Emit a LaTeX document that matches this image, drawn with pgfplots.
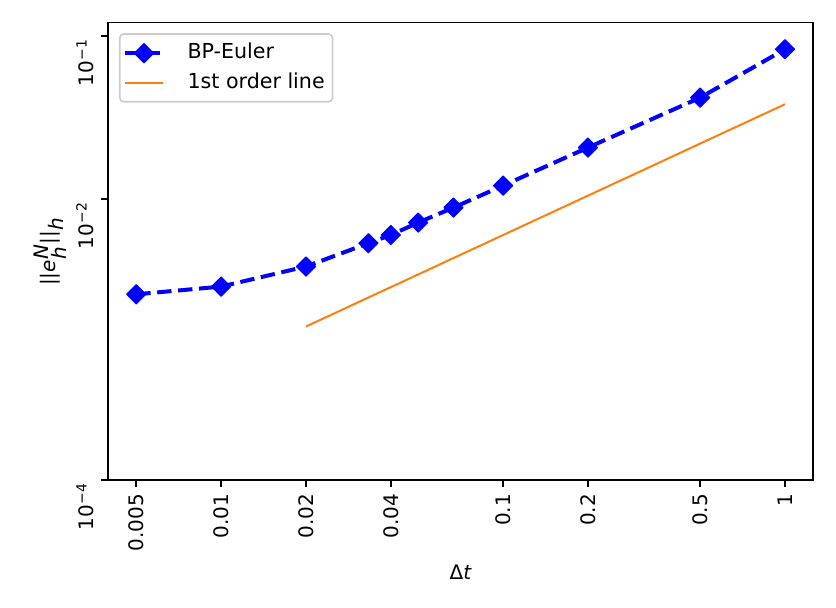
\documentclass[border=0pt]{standalone}
\usepackage{fontspec}
\setmainfont{DejaVu Sans}
\usepackage{pgfplots}
\pgfplotsset{compat=1.18}
\definecolor{mplorange}{HTML}{FF7F0E}

\begin{document}
\begin{tikzpicture}
\useasboundingbox (-54.15pt,-64pt) rectangle (363.85pt,240pt); % keep the reference's margins
\begin{axis}[
    at={(0,0)}, anchor=south west,
    scale only axis, width=352.5pt, height=228.7pt,
    xmode=log, ymode=log,
    xmin=0.00398, xmax=1.26,
    ymin=1.888e-4, ymax=0.1207,
    xtick={0.005,0.01,0.02,0.04,0.1,0.2,0.5,1},
    xticklabels={0.005,0.01,0.02,0.04,0.1,0.2,0.5,1},
    ytick={1.89e-4,0.01,0.1},
    yticklabels={10\textsuperscript{−4},10\textsuperscript{−2},10\textsuperscript{−1}},
    minor xtick={}, minor ytick={},
    tick align=outside, tick pos=left,
    major tick length=3.5pt,
    major tick style={black, line width=0.8pt},
    axis line style={line width=0.8pt},
    x tick label style={rotate=90, anchor=east},
    y tick label style={rotate=90, anchor=south east, xshift=2pt},
    xlabel={Δ\textit{t}},
    ylabel={||\textit{e}$^{\textit{N}}_{\textit{h}}$||$_{\textit{h}}$},
    xlabel style={at={(axis description cs:0.5,-0.2011)}, anchor=center},
    ylabel style={at={(axis description cs:-0.0823,0.5)}, anchor=center},
    legend style={at={(axis description cs:0,1)}, anchor=north west,
        xshift=5.35pt, yshift=-5.3pt, draw=black!20, line width=0.8pt,
        rounded corners=2pt, inner xsep=1.6pt, inner ysep=2.25pt,
        font=\fontsize{10.3}{12}\selectfont,
        nodes={inner xsep=2.3pt, inner ysep=2.6pt, text height=7.5pt, text depth=2pt},
        /tikz/every odd column/.append style={column sep=9pt}},
    legend cell align=left,
    legend image code/.code={\draw[mark repeat=2,mark phase=2] plot coordinates {(0pt,0pt) (9.5pt,0pt) (19pt,0pt)};},
]
\addplot[blue, line width=2pt, dash pattern=on 7.2pt off 3.3pt, line join=round,
    mark=square*, mark options={solid, rotate=45, line width=0.5pt, mark size=3.4pt}]
  coordinates {
    (0.005,0.0026) (0.01,0.0029) (0.02,0.00385) (0.0333,0.00535) (0.04,0.00601)
    (0.05,0.00716) (0.0667,0.00885) (0.1,0.01207) (0.2,0.02066) (0.5,0.0418) (1,0.0828)
  };
\addlegendentry{BP-Euler}
\addplot[mplorange, line width=1pt, no marks]
  coordinates {(0.02,0.00165) (1,0.0381)};
\addlegendentry{1st order line}
\end{axis}
\end{tikzpicture}
\end{document}
